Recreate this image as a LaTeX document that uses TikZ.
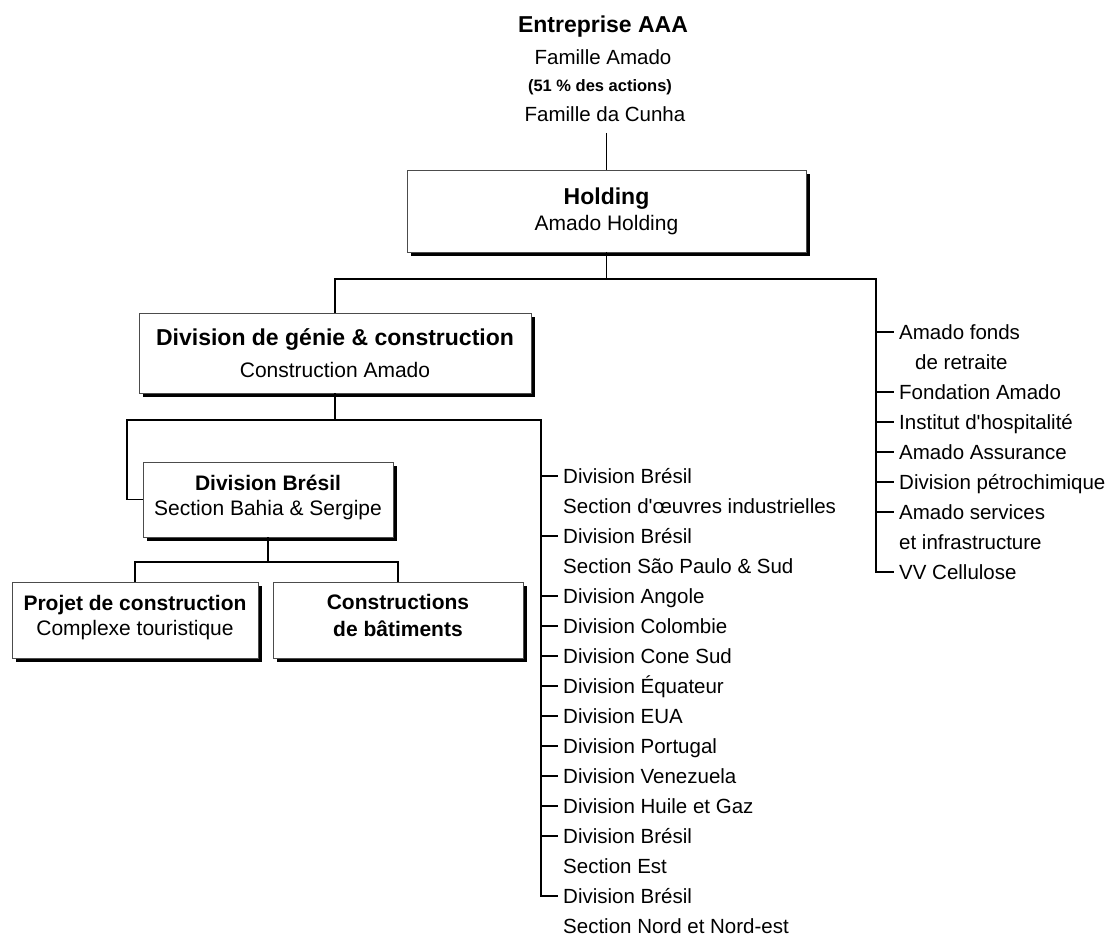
\documentclass[tikz,border=0pt]{standalone}
\usepackage{fontspec}
\setmainfont{Liberation Sans}
\usetikzlibrary{shadows}

\begin{document}
\begin{tikzpicture}[x=1pt,y=-1pt,
  link/.style={line width=1.2pt, black},
  orgbox/.style={draw=black!70, line width=0.6pt, fill=white, align=center, inner sep=0pt,
    drop shadow={shadow xshift=4pt, shadow yshift=-4pt, fill=black, opacity=1}},
  item/.style={anchor=west, inner xsep=5pt, inner ysep=0pt, text height=17pt, text depth=2.3pt,
    font=\fontsize{20.5}{24}\selectfont},
  plain/.style={inner sep=0pt, text height=17pt, text depth=2.3pt, font=\fontsize{20.5}{24}\selectfont},
]
\useasboundingbox (0,0) rectangle (1111,939);

% shareholders
\node[plain, text height=19pt, text depth=2.5pt, font=\bfseries\fontsize{23}{26}\selectfont] (ent) at (603,24) {Entreprise AAA};
\node[plain] (fam1) at (603,57) {Famille Amado};
\node[plain, text height=14pt, text depth=2pt, font=\bfseries\fontsize{16.5}{20}\selectfont] (pct) at (600,86) {(51 \% des actions)};
\node[plain] (fam2) at (605,114) {Famille da Cunha};

% boxes
\node[orgbox, minimum width=399pt, minimum height=82pt, font=\fontsize{21}{26}\selectfont] (hold) at (606.5,211)
  {{\bfseries\fontsize{23}{26}\selectfont Holding}\\Amado Holding};
\node[orgbox, minimum width=392pt, minimum height=80pt, font=\fontsize{21}{32}\selectfont] (gen) at (335,353)
  {{\bfseries\fontsize{23}{32}\selectfont Division de génie \& construction}\\Construction Amado};
\node[orgbox, minimum width=250pt, minimum height=75pt, font=\fontsize{21}{25}\selectfont] (bra) at (268,499.5)
  {{\bfseries Division Brésil}\\Section Bahia \& Sergipe\rule[-9pt]{0pt}{1pt}};
\node[orgbox, minimum width=246pt, minimum height=76pt, font=\fontsize{21}{25}\selectfont] (proj) at (135,620)
  {{\bfseries Projet de construction}\\Complexe touristique\rule[-10pt]{0pt}{1pt}};
\node[orgbox, minimum width=250pt, minimum height=76pt, font=\bfseries\fontsize{21}{27}\selectfont] (cons) at (398,620)
  {Constructions\\de bâtiments\rule[-10pt]{0pt}{1pt}};

% divisions under Construction Amado
\node[item] (m1)  at (558,476) {Division Brésil};
\node[item] (m2)  at (558,506) {Section d\textquotesingle œuvres industrielles};
\node[item] (m3)  at (558,536) {Division Brésil};
\node[item] (m4)  at (558,566) {Section São Paulo \& Sud};
\node[item] (m5)  at (558,596) {Division Angole};
\node[item] (m6)  at (558,626) {Division Colombie};
\node[item] (m7)  at (558,656) {Division Cone Sud};
\node[item] (m8)  at (558,686) {Division Équateur};
\node[item] (m9)  at (558,716) {Division EUA};
\node[item] (m10) at (558,746) {Division Portugal};
\node[item] (m11) at (558,776) {Division Venezuela};
\node[item] (m12) at (558,806) {Division Huile et Gaz};
\node[item] (m13) at (558,836) {Division Brésil};
\node[item] (m14) at (558,866) {Section Est};
\node[item] (m15) at (558,896) {Division Brésil};
\node[item] (m16) at (558,926) {Section Nord et Nord-est};

% other holdings
\node[item] (r1) at (894,332) {Amado fonds};
\node[item] (r2) at (910,362) {de retraite};
\node[item] (r3) at (894,392) {Fondation Amado};
\node[item] (r4) at (894,422) {Institut d\textquotesingle hospitalité};
\node[item] (r5) at (894,452) {Amado Assurance};
\node[item] (r6) at (894,482) {Division pétrochimique};
\node[item] (r7) at (894,512) {Amado services};
\node[item] (r8) at (894,542) {et infrastructure};
\node[item] (r9) at (894,572) {VV Cellulose};

% bus coordinates
\coordinate (topend) at (606.5,133);
\coordinate (busR) at (876,279);
\coordinate (mbL) at (127,420);
\coordinate (mbR) at (541,420);
\coordinate (bbus) at (268,562);

% connectors
\draw[link] (topend) -- (hold.north);
\draw[link] (hold.south) -- (hold.south |- busR);
\draw[link] (gen.north) -- (gen.north |- busR) -- (busR) -- (busR |- r9.west) -- (r9.west);
\foreach \n in {r1,r3,r4,r5,r6,r7}
  \draw[link] (busR |- \n.west) -- (\n.west);

\draw[link] (gen.south) -- (gen.south |- mbR);
\draw[link] (bra.west) -| (mbL) -- (mbR) -- (mbR |- m15.west) -- (m15.west);
\foreach \n in {m1,m3,m5,m6,m7,m8,m9,m10,m11,m12,m13}
  \draw[link] (mbR |- \n.west) -- (\n.west);

\draw[link] (bra.south) -- (bra.south |- bbus);
\draw[link] (proj.north) |- (bbus) -| (cons.north);
\end{tikzpicture}
\end{document}
